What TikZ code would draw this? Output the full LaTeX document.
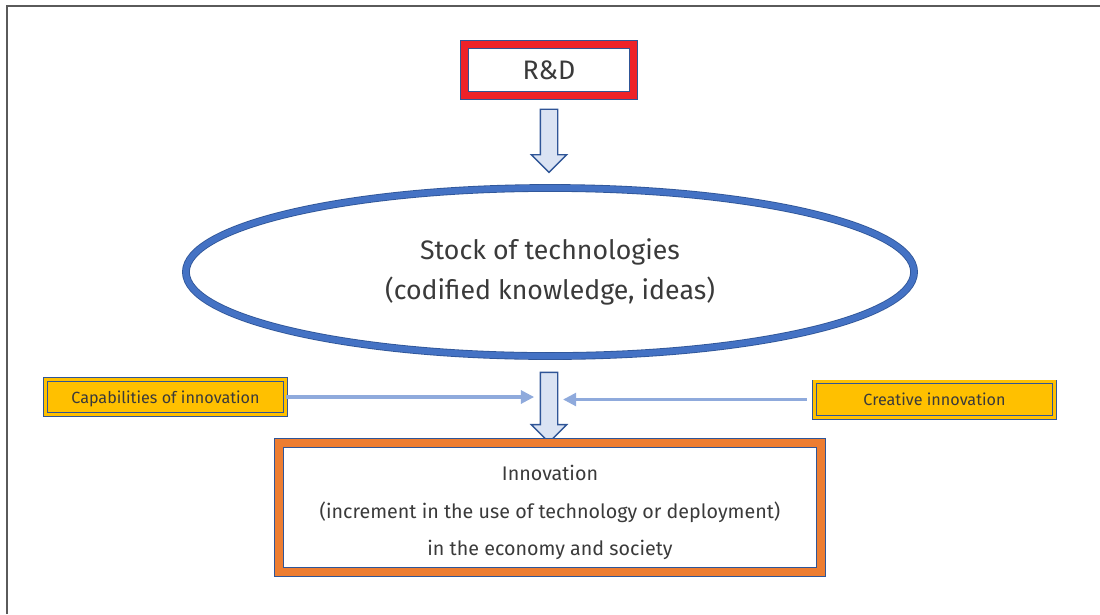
\documentclass[tikz,border=0pt]{standalone}
\usepackage{fontspec}
\setmainfont{Fira Sans}
\usepackage{xcolor}
\usetikzlibrary{shapes, arrows.meta, positioning}

\definecolor{lineblue}{HTML}{2F5597}
\definecolor{ellblue}{HTML}{4472C4}
\definecolor{rdred}{HTML}{EE2229}
\definecolor{gold}{HTML}{FFC000}
\definecolor{innoorange}{HTML}{ED7D31}
\definecolor{arrowfill}{HTML}{DAE3F3}
\definecolor{feedblue}{HTML}{8FAADC}
\definecolor{txtgray}{HTML}{3A3A3A}
\definecolor{framegray}{HTML}{5A5A5A}

\tikzset{
  rdbox/.style={draw=lineblue, line width=0.7pt, double=rdred, double distance=4.5pt,
    fill=white, minimum width=4.23cm, minimum height=1.28cm, text=txtgray,
    font=\fontsize{19}{23}\selectfont},
  stockellipse/.style={ellipse, draw=lineblue, line width=0.6pt, double=ellblue,
    double distance=4.3pt, minimum width=18.2cm, minimum height=4.2cm, align=center,
    text=txtgray, font=\fontsize{19}{28.4}\selectfont},
  fatarrow/.style={single arrow, draw=lineblue, line width=1pt, fill=arrowfill,
    single arrow head extend=0.225cm, inner xsep=0pt, inner ysep=0.2cm, rotate=-90},
  sidebox/.style={draw=lineblue, line width=0.6pt, double=gold, double distance=2.2pt,
    fill=gold, minimum width=6cm, minimum height=0.88cm, text=txtgray, text depth=0pt,
    font=\fontsize{11.5}{13}\selectfont},
  innobox/.style={draw=lineblue, line width=0.9pt, double=innoorange, double distance=5.5pt,
    fill=white, minimum width=13.55cm, minimum height=3.23cm, align=center,
    text=txtgray, font=\fontsize{14}{26.7}\selectfont},
  feed/.style={draw=feedblue, line width=2.3pt, -{Triangle[length=0.33cm, width=0.32cm]}}
}

\begin{document}
\begin{tikzpicture}[x=0.025cm, y=-0.025cm]
  \useasboundingbox (0,0) rectangle (1100,614);
  \draw[framegray, line width=1.4pt] (7,614) -- (7,6) -- (1100,6);

  \node[rdbox] (rd) at (549,70) {R\&D};
  \node[fatarrow, minimum height=1.58cm] (down1) at (549,136.5) {};
  \node[stockellipse] (stock) at (550,272) {Stock of technologies\\(codified knowledge, ideas)};
  \node[fatarrow, minimum height=1.75cm] (down2) at (549,403) {};

  \node[sidebox] (capab) at (165.5,397) {Capabilities of innovation};
  \node[sidebox] (creative) at (934.5,399.5) {Creative innovation};

  \node[innobox] (innov) at (550,507.5)
    {\rule{0pt}{18pt}Innovation\\(increment in the use of technology or deployment)\\in the economy and society};

  \draw[feed, shorten >=0.37cm] (capab.east) -- (capab.east -| down2.center);
  \draw[feed, shorten <=0.18cm, shorten >=0.35cm] (creative.west) -- (creative.west -| down2.center);
\end{tikzpicture}
\end{document}
